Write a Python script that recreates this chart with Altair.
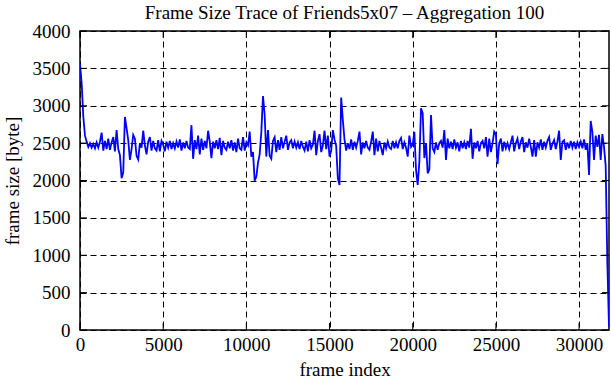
import altair as alt
import pandas as pd

# aggregated frame sizes (one value per 100 frames)
size_0_9k = [
    3560, 3300, 2850, 2600, 2520, 2450, 2500, 2440, 2490, 2430,
    2510, 2440, 2520, 2640, 2400, 2530, 2420, 2560, 2410, 2510,
    2580, 2390, 2675, 2420, 2340, 2030, 2110, 2850, 2700, 2540,
    2275, 2420, 2610, 2560, 2330, 2280, 2500, 2440, 2666, 2470,
    2350, 2520, 2580, 2400, 2530, 2430, 2400, 2540, 2390, 2530,
    2480, 2390, 2520, 2440, 2530, 2420, 2500, 2430, 2520, 2440,
    2550, 2400, 2510, 2430, 2530, 2440, 2420, 2740, 2290, 2540,
    2420, 2600, 2350, 2560, 2410, 2530, 2430, 2666, 2520, 2300,
    2520, 2430, 2540, 2420, 2570, 2340, 2530, 2440, 2410, 2520,
    2430, 2540, 2400, 2510, 2380, 2560, 2430, 2410, 2580, 2400,
]
size_10k_19k = [
    2510, 2470, 2655, 2320, 2380, 1998, 2050, 2240, 2350, 2650,
    3130, 2880, 2320, 2675, 2330, 2290, 2530, 2580, 2380, 2540,
    2410, 2580, 2430, 2520, 2600, 2410, 2510, 2540, 2430, 2520,
    2440, 2510, 2420, 2530, 2450, 2400, 2520, 2390, 2540, 2430,
    2480, 2666, 2340, 2530, 2620, 2380, 2470, 2666, 2420, 2600,
    2320, 2400, 2675, 2550, 2460, 2030, 1940, 3110, 2810, 2550,
    2400, 2500, 2420, 2550, 2410, 2520, 2440, 2530, 2655, 2350,
    2510, 2430, 2530, 2440, 2410, 2520, 2655, 2340, 2560, 2390,
    2530, 2440, 2340, 2510, 2430, 2520, 2440, 2420, 2530, 2430,
    2510, 2430, 2530, 2570, 2420, 2510, 2440, 2320, 2600, 2450,
]
size_20k_29k = [
    2480, 2650, 2140, 1940, 2250, 2966, 2900, 2300, 2500, 2096,
    2150, 2876, 2430, 2380, 2510, 2410, 2500, 2530, 2440, 2675,
    2275, 2560, 2430, 2520, 2420, 2550, 2440, 2510, 2390, 2530,
    2430, 2510, 2420, 2530, 2440, 2690, 2290, 2510, 2430, 2530,
    2390, 2500, 2530, 2430, 2580, 2320, 2560, 2380, 2500, 2655,
    2620, 2220, 2500, 2560, 2390, 2520, 2430, 2500, 2420, 2510,
    2600, 2390, 2500, 2560, 2420, 2520, 2580, 2380, 2510, 2440,
    2560, 2450, 2320, 2540, 2320, 2510, 2440, 2550, 2410, 2520,
    2440, 2530, 2580, 2410, 2490, 2540, 2420, 2520, 2666, 2275,
    2520, 2540, 2410, 2510, 2430, 2530, 2440, 2520, 2420, 2510,
]
size_30k_end = [
    2450, 2520, 2430, 2550, 2410, 2500, 2073, 2796, 2650, 2275,
    2600, 2450, 2610, 2275, 2620, 2450, 2200, 900, 40,
]

aggregation = 100
frame_size = size_0_9k + size_10k_19k + size_20k_29k + size_30k_end
frame_index = [i * aggregation for i in range(len(frame_size))]

x_ticks = [0, 5000, 10000, 15000, 20000, 25000, 30000]
y_ticks = [0, 500, 1000, 1500, 2000, 2500, 3000, 3500, 4000]

df = pd.DataFrame({"frame": frame_index, "size": frame_size})
xt = pd.DataFrame({"frame": x_ticks})
yt = pd.DataFrame({"size": y_ticks})

W, H = 529, 299
FONT = "Liberation Serif"

xscale = alt.Scale(domain=[0, 31800], nice=False, zero=False)
yscale = alt.Scale(domain=[0, 4000], nice=False)

axis_style = dict(ticks=False, tickSize=0, domain=False, grid=True, gridColor="black",
                  gridDash=[6, 4], gridOpacity=1, gridWidth=1, labelFlush=False,
                  format="d", labelFont=FONT, titleFont=FONT, labelFontSize=19,
                  titleFontSize=19, titleFontWeight="normal", labelColor="black",
                  titleColor="black")
xaxis = alt.Axis(title="frame index", values=x_ticks, labelPadding=5, titlePadding=6,
                 **axis_style)
yaxis = alt.Axis(title="frame size [byte]", values=y_ticks, labelPadding=10,
                 titlePadding=10, **axis_style)

line = alt.Chart(df).mark_line(color="#0000ff", strokeWidth=1.8, clip=True).encode(
    x=alt.X("frame:Q", scale=xscale, axis=xaxis),
    y=alt.Y("size:Q", scale=yscale, axis=yaxis),
)

tick_len = 7
bottom_ticks = alt.Chart(xt).mark_rule(color="black", strokeWidth=1).encode(
    x=alt.X("frame:Q", scale=xscale, axis=xaxis), y=alt.value(H), y2=alt.value(H - tick_len))
top_ticks = alt.Chart(xt).mark_rule(color="black", strokeWidth=1).encode(
    x=alt.X("frame:Q", scale=xscale, axis=xaxis), y=alt.value(0), y2=alt.value(tick_len))
left_ticks = alt.Chart(yt).mark_rule(color="black", strokeWidth=1).encode(
    y=alt.Y("size:Q", scale=yscale, axis=yaxis), x=alt.value(0), x2=alt.value(tick_len))
right_ticks = alt.Chart(yt).mark_rule(color="black", strokeWidth=1).encode(
    y=alt.Y("size:Q", scale=yscale, axis=yaxis), x=alt.value(W - tick_len), x2=alt.value(W))

chart = alt.layer(line, bottom_ticks, top_ticks, left_ticks, right_ticks).properties(
    width=W, height=H,
    background="white",
    title=alt.TitleParams("Frame Size Trace of Friends5x07 \u2013 Aggregation 100",
                          font=FONT, fontSize=19, fontWeight="normal", color="black",
                          anchor="middle", frame="group", offset=11, dy=12),
    autosize=alt.AutoSizeParams(type="none"),
    padding={"left": 80, "top": 31, "right": 2, "bottom": 50},
).configure_view(
    stroke="black", strokeWidth=1.5
)

chart.save("out.html", embed_options={"renderer": "svg", "actions": False})
